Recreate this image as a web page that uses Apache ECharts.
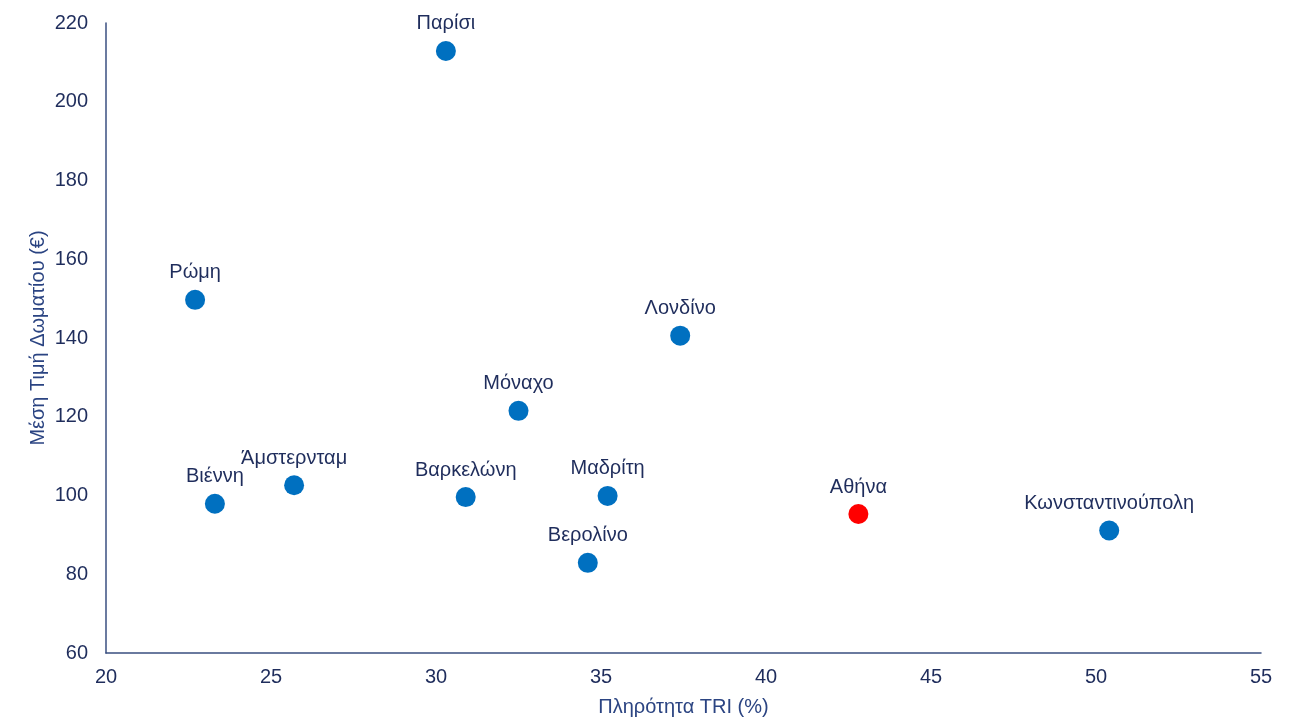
<!DOCTYPE html>
<html>
<head>
<meta charset="utf-8">
<script src="https://cdn.jsdelivr.net/npm/echarts@6/dist/echarts.min.js"></script>
<style>html,body{margin:0;padding:0;background:#fff;}#c{width:1307px;height:722px;}</style>
</head>
<body>
<div id="c"></div>
<script>
const cities = ['Παρίσι','Ρώμη','Λονδίνο','Μόναχο','Βιέννη','Άμστερνταμ','Βαρκελώνη','Μαδρίτη','Βερολίνο','Αθήνα','Κωνσταντινούπολη'];
const occupancy = [30.3, 22.7, 37.4, 32.5, 23.3, 25.7, 30.9, 35.2, 34.6, 42.8, 50.4];
const price = [212.9, 149.7, 140.6, 121.5, 97.9, 102.6, 99.6, 99.9, 82.9, 95.3, 91.1];
const highlight = 'Αθήνα';

const textColor = '#1f2d5c';
const font = 'Liberation Sans, Arial, sans-serif';
const data = cities.map((c, i) => ({
  name: c,
  value: [occupancy[i], price[i]],
  itemStyle: { color: c === highlight ? '#ff0000' : '#0070c0', opacity: 1 }
}));

const chart = echarts.init(document.getElementById('c'));
chart.setOption({
  animation: false,
  grid: { left: 106, right: 46, top: 23, bottom: 69 },
  xAxis: {
    type: 'value', min: 20, max: 55, interval: 5,
    name: 'Πληρότητα TRI (%)', nameLocation: 'middle', nameGap: 44,
    nameMoveOverlap: false,
    nameTextStyle: { color: '#2b4482', fontSize: 20, fontFamily: font },
    axisLine: { show: true, lineStyle: { color: '#3a4f80', width: 1.5 } },
    axisTick: { show: false },
    splitLine: { show: false },
    axisLabel: { color: textColor, fontSize: 20, margin: 14, fontFamily: font }
  },
  yAxis: {
    type: 'value', min: 60, max: 220, interval: 20,
    name: 'Μέση Τιμή Δωματίου (€)', nameLocation: 'middle', nameGap: 58,
    nameMoveOverlap: false,
    nameTextStyle: { color: '#2b4482', fontSize: 20, fontFamily: font },
    axisLine: { show: true, lineStyle: { color: '#3a4f80', width: 1.5 } },
    axisTick: { show: false },
    splitLine: { show: false },
    axisLabel: { color: textColor, fontSize: 20, margin: 18, fontFamily: font }
  },
  series: [{
    type: 'scatter',
    symbolSize: 20,
    itemStyle: { opacity: 1 },
    data: data,
    label: {
      show: true, position: 'top', distance: 7,
      formatter: p => p.name,
      color: textColor, fontSize: 20, fontFamily: font
    }
  }]
});
</script>
</body>
</html>
